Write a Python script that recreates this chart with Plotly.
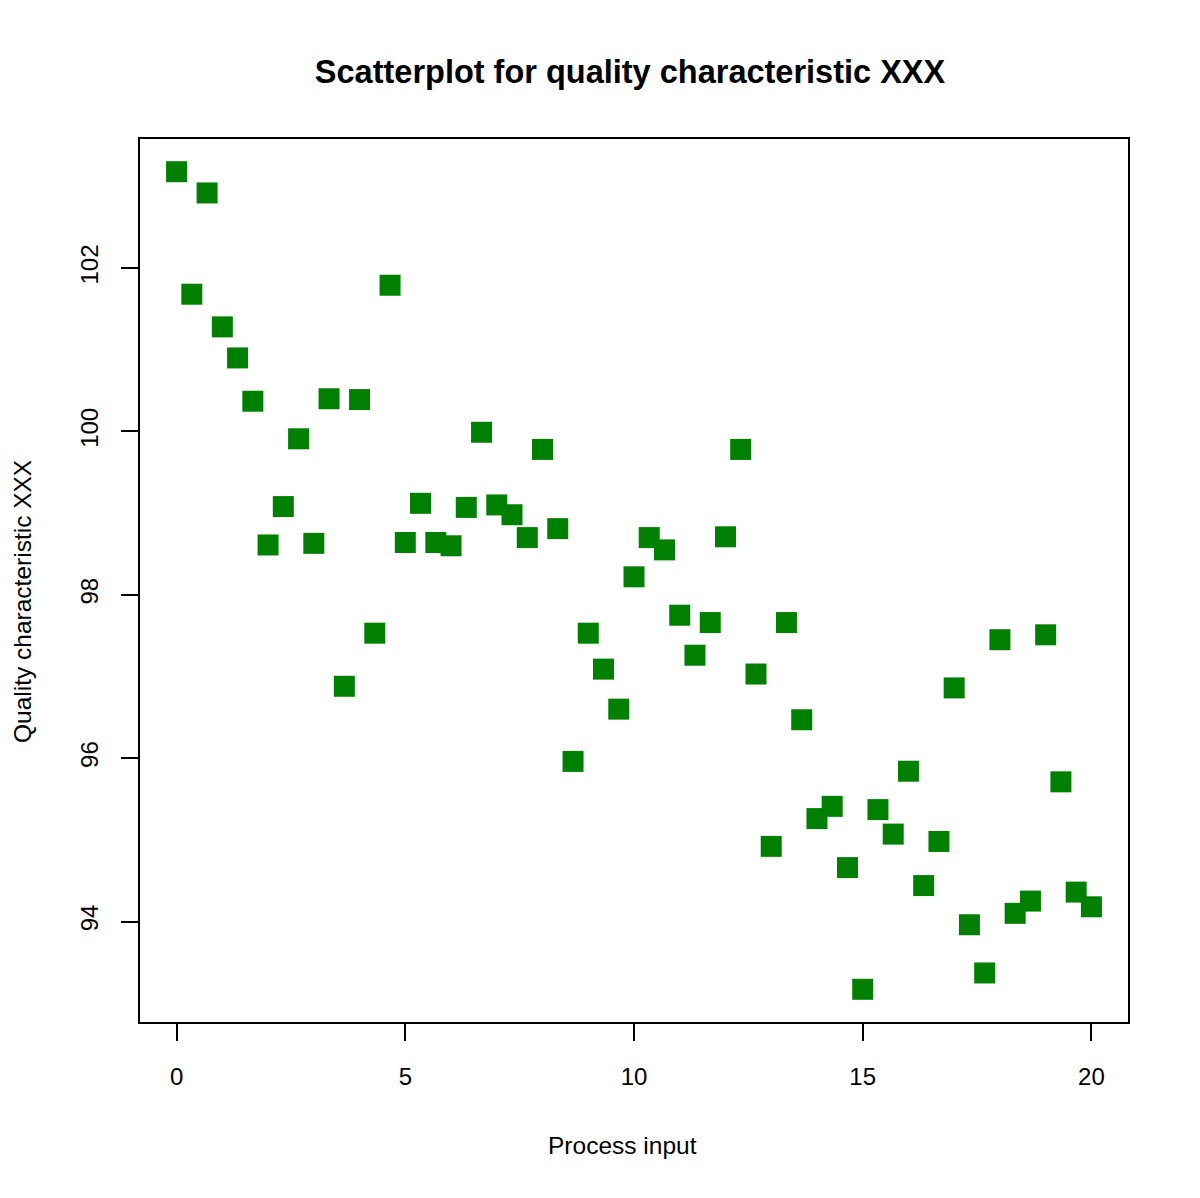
import plotly.graph_objects as go

process_input = [
    0.0, 0.333, 0.667, 1.0, 1.333, 1.667, 2.0, 2.333, 2.667, 3.0,
    3.333, 3.667, 4.0, 4.333, 4.667, 5.0, 5.333, 5.667, 6.0, 6.333,
    6.667, 7.0, 7.333, 7.667, 8.0, 8.333, 8.667, 9.0, 9.333, 9.667,
    10.0, 10.333, 10.667, 11.0, 11.333, 11.667, 12.0, 12.333, 12.667, 13.0,
    13.333, 13.667, 14.0, 14.333, 14.667, 15.0, 15.333, 15.667, 16.0, 16.333,
    16.667, 17.0, 17.333, 17.667, 18.0, 18.333, 18.667, 19.0, 19.333, 19.667,
    20.0,
]
quality = [
    103.18, 101.68, 102.92, 101.28, 100.90, 100.37, 98.61, 99.08, 99.91, 98.63,
    100.40, 96.88, 100.39, 97.53, 101.79, 98.64, 99.12, 98.64, 98.60, 99.07,
    99.99, 99.10, 98.98, 98.70, 99.78, 98.81, 95.96, 97.53, 97.09, 96.60,
    98.22, 98.70, 98.55, 97.75, 97.26, 97.66, 98.71, 99.78, 97.03, 94.92,
    97.66, 96.47, 95.26, 95.41, 94.66, 93.17, 95.37, 95.07, 95.84, 94.44,
    94.98, 96.86, 93.96, 93.37, 97.45, 94.10, 94.25, 97.51, 95.71, 94.36,
    94.18,
]
x_ticks = [0, 5, 10, 15, 20]
y_ticks = [94, 96, 98, 100, 102]

title_text = "Scatterplot for quality characteristic XXX"
x_title = "Process input"
y_title = "Quality characteristic XXX"

FONT = "Liberation Sans, Arial, Helvetica, sans-serif"

# R-style 4% range extension
def ext(vals):
    lo, hi = min(vals), max(vals)
    d = (hi - lo) * 0.04
    return [lo - d, hi + d]

# page body has an 8px default margin; compensate
OFF = 8
W, H = 1200 - OFF, 1198 - OFF
ML, MR, MT, MB = 140 - OFF, 72, 139 - OFF, 176
PW, PH = W - ML - MR, H - MT - MB

fig = go.Figure()
fig.add_trace(go.Scatter(
    x=process_input, y=quality, mode="markers",
    marker=dict(symbol="square", size=21, color="#008000", line=dict(width=0)),
    showlegend=False, hoverinfo="x+y",
))

axis_common = dict(
    showgrid=False, zeroline=False,
    showline=True, mirror=True, linecolor="black", linewidth=1.5,
    ticks="outside", ticklen=17, tickwidth=1.5, tickcolor="black",
    tickfont=dict(family=FONT, size=24, color="black"),
)

fig.update_layout(
    width=W, height=H,
    margin=dict(l=ML, r=MR, t=MT, b=MB),
    paper_bgcolor="white", plot_bgcolor="white",
    title=dict(text="<b>" + title_text + "</b>", x=(630 - 140) / PW, xref="paper",
               y=1 - (72 - OFF) / H, yref="container", yanchor="middle", xanchor="center",
               font=dict(family=FONT, size=32.5, color="black")),
    xaxis=dict(range=ext(process_input), tickvals=x_ticks, ticklabelstandoff=15,
               **axis_common),
    yaxis=dict(range=ext(quality), tickvals=y_ticks, tickangle=-90,
               ticklabelstandoff=14, **axis_common),
    annotations=[
        dict(text=x_title, xref="paper", yref="paper",
             x=(622 - 140) / PW, y=-(1145 - 1022) / PH,
             xanchor="center", yanchor="middle", showarrow=False,
             font=dict(family=FONT, size=24.5, color="black")),
        dict(text=y_title, xref="paper", yref="paper",
             x=(22 - 140) / PW, y=(1022 - 602) / PH, textangle=-90,
             xanchor="center", yanchor="middle", showarrow=False,
             font=dict(family=FONT, size=24.5, color="black")),
    ],
)

fig.write_html("out.html")
